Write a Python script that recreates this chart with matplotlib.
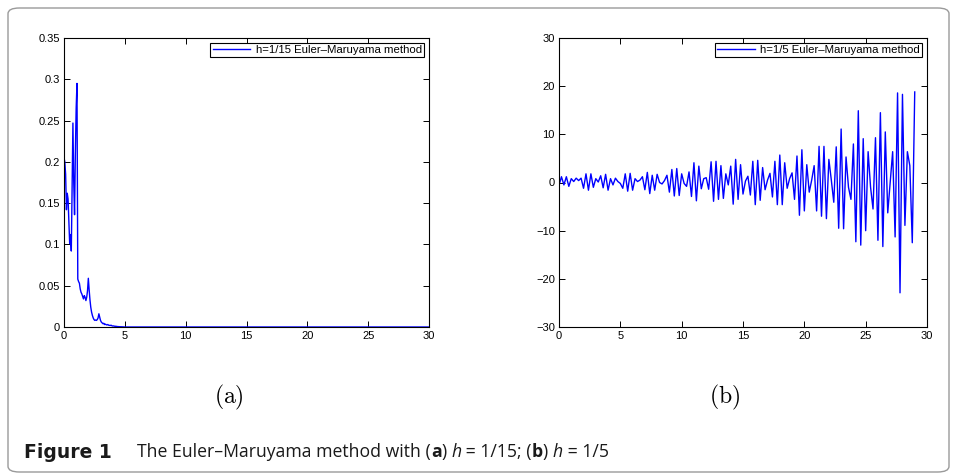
import numpy as np
import matplotlib
matplotlib.use("Agg")
import matplotlib.pyplot as plt
from matplotlib.patches import FancyBboxPatch

# ---- data ----
# (a) h = 1/15, values at t = 0, h, 2h, ... up to t = 30
h_left = 1 / 15
left_start = [0.205, 0.200, 0.185, 0.142, 0.162, 0.155, 0.128, 0.101, 0.112, 0.092,
              0.170, 0.247, 0.175, 0.136, 0.210, 0.265, 0.295, 0.058, 0.055, 0.053,
              0.046, 0.042, 0.040, 0.037, 0.034, 0.038, 0.036, 0.032, 0.036, 0.044,
              0.059, 0.045, 0.033, 0.024, 0.018, 0.014, 0.011, 0.009, 0.008, 0.0085,
              0.008, 0.009, 0.011, 0.016, 0.012, 0.008, 0.006, 0.005, 0.004, 0.0045,
              0.003, 0.0035, 0.0028, 0.0025, 0.003, 0.0022, 0.002, 0.0018, 0.0022, 0.0015,
              0.0012, 0.0013, 0.001, 0.0008, 0.0009, 0.0006, 0.0005, 0.0004, 0.0004, 0.0003,
              0.0003, 0.0002, 0.0002, 0.0001, 0.0001]
left_vals = left_start + [0.0] * (451 - len(left_start))   # flat at zero after t~5

# (b) h = 1/5, values at t = 0, 0.2, ... , 29
h_right = 1 / 5
right_vals = [-0.6, 1.2, -0.5, 1.2, -0.8, 0.8, 0.2, 0.9, 0.4, 0.9,
              -1.2, 1.8, -1.6, 1.8, -1.0, 0.8, 0.1, 1.4, -1.1, 1.7,
              -1.6, 0.8, -0.5, 0.9, 0.2, -0.2, -1.2, 1.8, -1.8, 1.9,
              -1.6, 0.8, 0.2, 0.5, 1.2,
              -1.5, 2.1, -2.3, 1.5, -1.6, 1.7, 0.0, -0.3, 0.4, 1.5,
              -2.0, 2.7, -2.8, 2.9, -2.7, 1.8, -0.2, -0.8, 2.2, -2.9,
              4.1, -3.8, 3.4, -1.3, 0.8, 1.0, -1.4, 4.3, -3.9, 4.4,
              -3.5, 3.5, -3.3, 1.8, -0.5, 3.4, -4.5,
              4.8, -3.5, 3.7, -2.4, 0.3, 1.3, -2.6, 4.4, -4.6, 4.6,
              -3.7, 3.1, -1.5, 0.5, 1.9, -3.0, 4.4, -4.6, 5.7, -4.6,
              4.1, -1.2, 0.8, 2.0, -3.5, 5.5, -6.8, 6.8, -5.9, 3.7,
              -2.0, 0.5, 3.5, -5.9, 7.5, -7.0, 7.5, -7.5,
              4.8, 0.5, -4.1, 7.4, -9.5, 11.1, -9.6, 5.3, -1.0, -3.5,
              8.0, -12.3, 14.9, -13.0, 9.1, -10.0, 6.4, -1.0, -5.5, 9.3,
              -12.0, 14.5, -13.3, 10.5, -6.3, 0.0, 6.4, -11.3, 18.6, -22.9,
              18.3, -8.9, 6.4, 3.5, -12.5, 18.8]

left_label = "h=1/15 Euler\u2013Maruyama method"
right_label = "h=1/5 Euler\u2013Maruyama method"
left_yticks = [0, 0.05, 0.1, 0.15, 0.2, 0.25, 0.3, 0.35]
left_yticklabels = ["0", "0.05", "0.1", "0.15", "0.2", "0.25", "0.3", "0.35"]
right_yticks = [-30, -20, -10, 0, 10, 20, 30]
xticks = [0, 5, 10, 15, 20, 25, 30]

t_left = np.arange(len(left_vals)) * h_left
t_right = np.arange(len(right_vals)) * h_right

W, H = 957, 474
fig = plt.figure(figsize=(W / 100, H / 100), dpi=100)
plt.rcParams["font.family"] = ["Liberation Sans", "DejaVu Sans"]
plt.rcParams["mathtext.fontset"] = "cm"

# rounded frame around figure + caption
frame = FancyBboxPatch((8 / W, 2 / H), (949 - 8) / W, (466 - 2) / H,
                       boxstyle="round,pad=0,rounding_size=0.012",
                       transform=fig.transFigure, fill=False,
                       edgecolor="#9a9a9a", linewidth=1.0)
fig.patches.append(frame)


def style_axes(ax):
    ax.tick_params(direction="in", length=4, width=0.7, labelsize=8,
                   top=True, right=True, pad=3)
    for s in ax.spines.values():
        s.set_linewidth(0.8)


axL = fig.add_axes([64 / W, 1 - 327 / H, 365 / W, 289 / H])
axL.plot(t_left, left_vals, color="blue", linewidth=1.0, label=left_label)
axL.set_xlim(0, 30)
axL.set_ylim(0, 0.35)
axL.set_xticks(xticks)
axL.set_yticks(left_yticks)
axL.set_yticklabels(left_yticklabels)
style_axes(axL)

axR = fig.add_axes([559 / W, 1 - 327 / H, 368 / W, 289 / H])
axR.plot(t_right, right_vals, color="blue", linewidth=1.0, label=right_label)
axR.set_xlim(0, 30)
axR.set_ylim(-30, 30)
axR.set_xticks(xticks)
axR.set_yticks(right_yticks)
style_axes(axR)

for ax in (axL, axR):
    ax.legend(loc="upper right", fontsize=8.2, fancybox=False, edgecolor="black",
              framealpha=1, borderpad=0.2, handlelength=3.3, handletextpad=0.5,
              borderaxespad=0.4)
    ax.get_legend().get_frame().set_linewidth(0.8)

fig.text(229 / W, 1 - 397 / H, r"$\mathrm{(a)}$", fontsize=17, ha="center", va="center")
fig.text(725 / W, 1 - 397 / H, r"$\mathrm{(b)}$", fontsize=17, ha="center", va="center")

# caption: bold label, then the body built piece by piece
cap_font = ["Open Sans", "DejaVu Sans"]
fig.text(24 / W, 1 - 452 / H, "Figure 1", fontsize=13.5, fontweight="bold",
         family=["DejaVu Sans"], va="center", ha="left", color="#1a1a1a")
pieces = [("The Euler\u2013Maruyama method with (", "normal", "normal"),
          ("a", "bold", "normal"), (") ", "normal", "normal"), ("h", "normal", "italic"),
          (" = 1/15; (", "normal", "normal"), ("b", "bold", "normal"), (") ", "normal", "normal"),
          ("h", "normal", "italic"), (" = 1/5", "normal", "normal")]
renderer = fig.canvas.get_renderer()
x = 137
for txt, wt, st in pieces:
    t = fig.text(x / W, 1 - 452 / H, txt, fontsize=12.7, fontweight=wt, fontstyle=st,
                 family=cap_font, va="center", ha="left", color="#1a1a1a")
    bb = t.get_window_extent(renderer=renderer)
    x += bb.width

fig.savefig("out.png", dpi=100)
